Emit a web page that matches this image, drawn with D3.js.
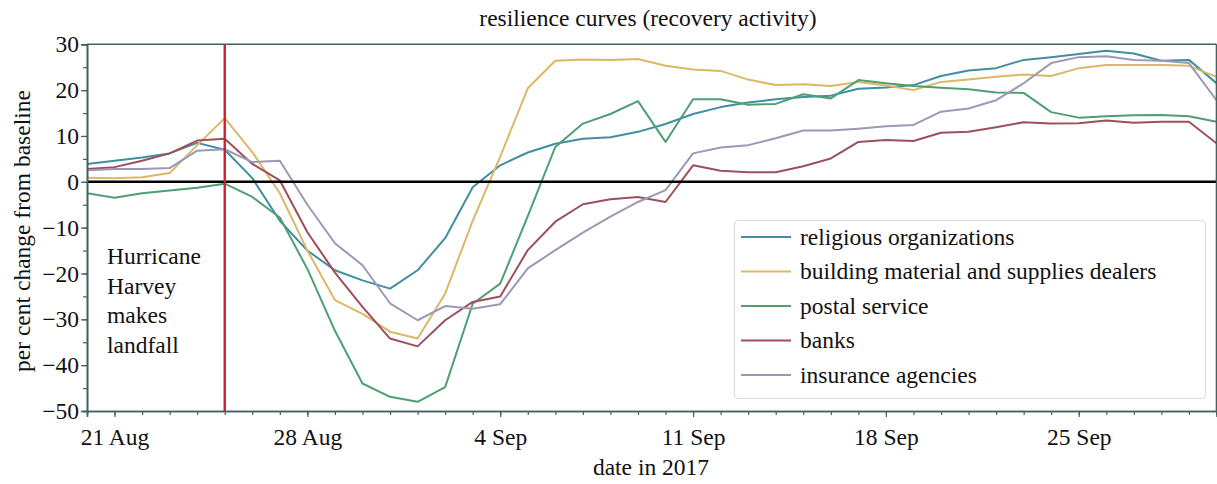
<!DOCTYPE html>
<html>
<head>
<meta charset="utf-8">
<script src="https://cdn.jsdelivr.net/npm/d3@7"></script>
<style>
  html, body { margin: 0; padding: 0; background: #fff; }
  svg text { font-family: "Liberation Serif", "DejaVu Serif", serif; fill: #111; }
</style>
</head>
<body>
<svg id="chart" width="1217" height="484"></svg>
<script>
// Daily observations, 20 Aug 2017 through 30 Sep 2017
const startDate = "2017-08-20";
const endDate = "2017-09-30";
const landfallDate = "2017-08-25";

const religious = [3.9, 4.6, 5.3, 6.2, 8.5, 7.0, 0.8, -8.5, -15.0, -19.3, -21.5, -23.3, -19.3, -12.3, -1.2, 3.6, 6.4, 8.3, 9.4, 9.7, 10.9, 12.6, 14.8, 16.3, 17.3, 18.0, 18.5, 18.8, 20.3, 20.6, 21.1, 23.1, 24.3, 24.8, 26.6, 27.2, 27.9, 28.6, 28.0, 26.4, 26.6, 21.5];
const building = [0.9, 0.8, 1.0, 1.9, 8.0, 13.9, 6.5, -2.5, -15.0, -25.8, -28.8, -32.7, -34.2, -24.4, -8.5, 5.5, 20.4, 26.4, 26.7, 26.6, 26.8, 25.3, 24.5, 24.2, 22.3, 21.1, 21.3, 20.9, 21.8, 21.0, 20.0, 21.8, 22.3, 22.9, 23.4, 23.1, 24.8, 25.5, 25.5, 25.5, 25.3, 22.9];
const postal = [-2.5, -3.5, -2.5, -1.9, -1.3, -0.4, -3.3, -7.8, -19.0, -32.5, -44.0, -46.9, -48.0, -44.8, -26.6, -22.2, -7.5, 7.6, 12.7, 14.8, 17.6, 8.7, 18.0, 18.0, 16.8, 17.0, 19.1, 18.2, 22.2, 21.5, 20.9, 20.5, 20.2, 19.5, 19.4, 15.2, 14.0, 14.3, 14.5, 14.6, 14.3, 13.1];
const banks = [2.8, 3.2, 4.6, 6.2, 9.0, 9.4, 3.9, 0.3, -11.0, -19.8, -27.3, -34.2, -35.9, -30.2, -26.2, -25.0, -14.9, -8.7, -4.9, -3.8, -3.3, -4.4, 3.6, 2.4, 2.1, 2.1, 3.4, 5.1, 8.7, 9.1, 8.9, 10.7, 10.9, 11.9, 13.0, 12.7, 12.8, 13.4, 12.9, 13.1, 13.1, 8.4];
const insurance = [2.5, 2.8, 2.8, 3.0, 6.8, 7.1, 4.3, 4.6, -5.0, -13.4, -18.2, -26.5, -30.2, -27.1, -27.7, -26.7, -18.9, -14.9, -11.1, -7.6, -4.4, -1.8, 6.2, 7.5, 8.0, 9.5, 11.2, 11.2, 11.6, 12.1, 12.4, 15.3, 16.0, 17.8, 21.5, 25.9, 27.2, 27.4, 26.6, 26.4, 25.9, 17.8];

const seriesNames = ["religious organizations", "building material and supplies dealers", "postal service", "banks", "insurance agencies"];
const seriesValues = [religious, building, postal, banks, insurance];
const seriesColors = ["#3f8ea2", "#dcb866", "#4f9f73", "#9e4f5c", "#9c98b6"];

const yTickValues = [-50, -40, -30, -20, -10, 0, 10, 20, 30];
const annotationLines = ["Hurricane", "Harvey", "makes", "landfall"];

const titleText = "resilience curves (recovery activity)";
const xLabelText = "date in 2017";
const yLabelText = "per cent change from baseline";

// ---- layout ----
const svg = d3.select("#chart");
const W = 1217, H = 484;
const plot = { left: 87, right: 1216.5, top: 44.3, bottom: 411 };
const axisColor = "#44605f";
const fontSize = 23.5;

const parse = d3.utcParse("%Y-%m-%d");
const t0 = parse(startDate), t1 = parse(endDate);
const days = d3.utcDay.range(t0, d3.utcDay.offset(t1, 1));

const x = d3.scaleUtc().domain([t0, t1]).range([plot.left, plot.right]);
const y = d3.scaleLinear().domain([-50, 30]).range([plot.bottom, plot.top]);

const fmtMinus = v => (v < 0 ? "\u2212" + Math.abs(v) : String(v));

// Title
svg.append("text")
  .attr("x", 648).attr("y", 26)
  .attr("text-anchor", "middle")
  .style("font-size", fontSize + "px")
  .text(titleText);

// Clip for series
svg.append("clipPath").attr("id", "plotclip")
  .append("rect")
  .attr("x", plot.left).attr("y", plot.top)
  .attr("width", plot.right - plot.left).attr("height", plot.bottom - plot.top);

// Series lines
const line = d3.line()
  .x((d, i) => x(days[i]))
  .y(d => y(d));

const lines = svg.append("g").attr("clip-path", "url(#plotclip)");
seriesValues.forEach((vals, k) => {
  lines.append("path")
    .datum(vals)
    .attr("fill", "none")
    .attr("stroke", seriesColors[k])
    .attr("stroke-width", 2)
    .attr("stroke-linejoin", "round")
    .attr("d", line);
});

// Zero baseline
svg.append("line")
  .attr("x1", plot.left).attr("x2", plot.right)
  .attr("y1", y(0)).attr("y2", y(0))
  .attr("stroke", "#000").attr("stroke-width", 2.6);

// Landfall marker
svg.append("line")
  .attr("x1", x(parse(landfallDate))).attr("x2", x(parse(landfallDate)))
  .attr("y1", plot.top).attr("y2", plot.bottom)
  .attr("stroke", "#cf1f2e").attr("stroke-width", 2.4);

// Annotation text
const ann = svg.append("text")
  .attr("x", 107).attr("y", 264)
  .style("font-size", fontSize + "px");
annotationLines.forEach((s, i) => {
  ann.append("tspan").attr("x", 107).attr("dy", i === 0 ? 0 : 29.6).text(s);
});

// Axes
const styleAxis = g => {
  g.selectAll("path.domain").attr("stroke", axisColor).attr("stroke-width", 1.6);
  g.selectAll(".tick line").attr("stroke", axisColor).attr("stroke-width", 1.2);
  g.selectAll(".tick text").style("font-size", fontSize + "px")
    .style("font-family", "'Liberation Serif', serif").attr("fill", "#111");
};

// x minor (daily) ticks
svg.append("g")
  .attr("transform", `translate(0,${plot.bottom})`)
  .call(d3.axisBottom(x).tickValues(days).tickSize(4).tickFormat(""))
  .call(styleAxis);

// x major (weekly) ticks with labels
svg.append("g")
  .attr("transform", `translate(0,${plot.bottom})`)
  .call(d3.axisBottom(x).ticks(d3.utcMonday.every(1)).tickSize(6).tickPadding(11)
    .tickFormat(d3.utcFormat("%-d %b")))
  .call(styleAxis);

// y minor ticks every 5
svg.append("g")
  .attr("transform", `translate(${plot.left},0)`)
  .call(d3.axisLeft(y).tickValues(d3.range(-50, 31, 5)).tickSize(4).tickFormat(""))
  .call(styleAxis);

// y major ticks
svg.append("g")
  .attr("transform", `translate(${plot.left},0)`)
  .call(d3.axisLeft(y).tickValues(yTickValues).tickSize(6).tickPadding(2).tickFormat(fmtMinus))
  .call(styleAxis);

// top and right spines
svg.append("line")
  .attr("x1", plot.left).attr("x2", plot.right)
  .attr("y1", plot.top).attr("y2", plot.top)
  .attr("stroke", axisColor).attr("stroke-width", 1.6);
svg.append("line")
  .attr("x1", plot.right).attr("x2", plot.right)
  .attr("y1", plot.top).attr("y2", plot.bottom)
  .attr("stroke", axisColor).attr("stroke-width", 1.6);

// Axis labels
svg.append("text")
  .attr("x", 651).attr("y", 475)
  .attr("text-anchor", "middle")
  .style("font-size", fontSize + "px")
  .text(xLabelText);

svg.append("text")
  .attr("transform", "translate(30,231) rotate(-90)")
  .attr("text-anchor", "middle")
  .style("font-size", fontSize + "px")
  .text(yLabelText);

// Legend
const legend = svg.append("g");
legend.append("rect")
  .attr("x", 734.5).attr("y", 220.5)
  .attr("width", 471).attr("height", 178)
  .attr("rx", 4).attr("ry", 4)
  .attr("fill", "#fff")
  .attr("stroke", "#dcdcdc").attr("stroke-width", 1.2);

const rowY = d3.scalePoint().domain(seriesNames).range([237, 375]);
seriesNames.forEach((name, k) => {
  const cy = rowY(name);
  legend.append("line")
    .attr("x1", 741).attr("x2", 791)
    .attr("y1", cy).attr("y2", cy)
    .attr("stroke", seriesColors[k]).attr("stroke-width", 2.2);
  legend.append("text")
    .attr("x", 800).attr("y", cy + 7.5)
    .style("font-size", fontSize + "px")
    .text(name);
});
</script>
</body>
</html>
